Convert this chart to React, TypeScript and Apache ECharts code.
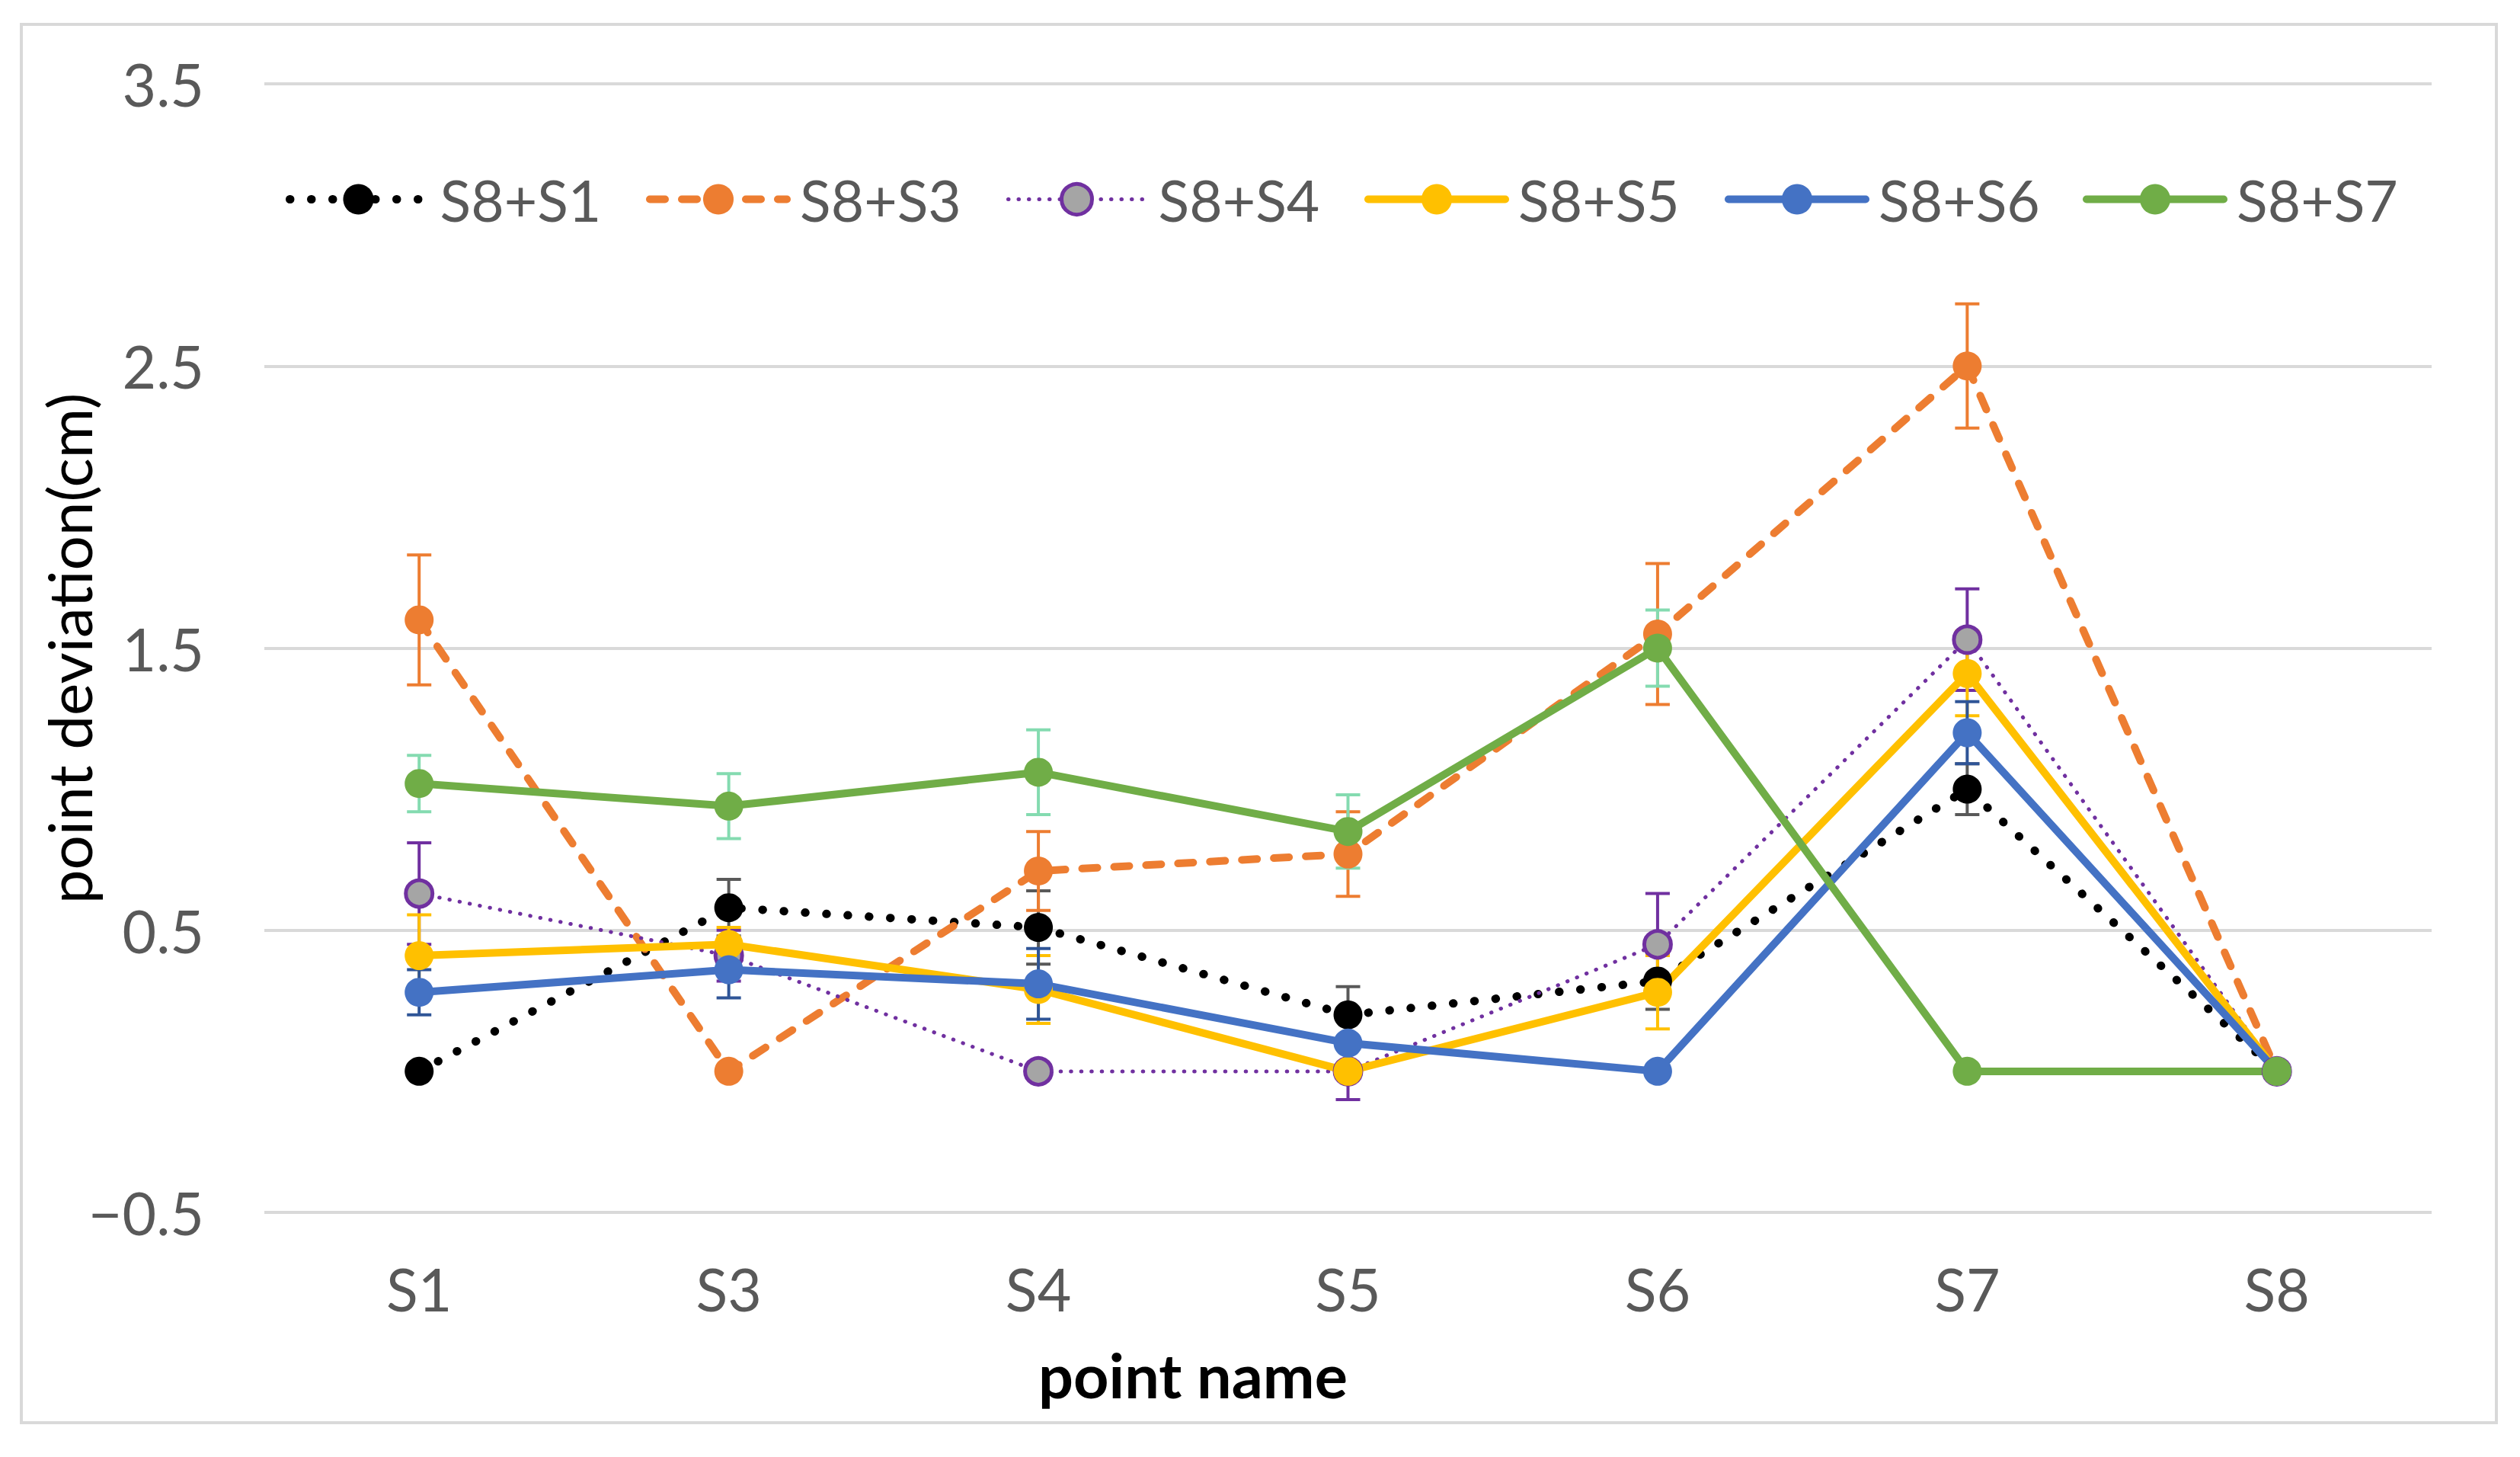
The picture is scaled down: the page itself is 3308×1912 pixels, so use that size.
import React, { useEffect, useRef } from "react";
import * as echarts from "echarts";

// ---------- data ----------
const categories = ["S1", "S3", "S4", "S5", "S6", "S7", "S8"];
const seriesNames = ["S8+S1", "S8+S3", "S8+S4", "S8+S5", "S8+S6", "S8+S7"];

const valS8S1 = [0, 0.58, 0.51, 0.2, 0.32, 1.0, 0];
const valS8S3 = [1.6, 0, 0.71, 0.77, 1.55, 2.5, 0];
const valS8S4 = [0.63, 0.41, 0, 0, 0.45, 1.53, 0];
const valS8S5 = [0.41, 0.45, 0.29, 0, 0.28, 1.41, 0];
const valS8S6 = [0.28, 0.36, 0.31, 0.1, 0, 1.2, 0];
const valS8S7 = [1.02, 0.94, 1.06, 0.85, 1.5, 0, 0];

const errS8S1 = [0, 0.1, 0.13, 0.1, 0.1, 0.09, 0];
const errS8S3 = [0.23, 0, 0.14, 0.15, 0.25, 0.22, 0];
const errS8S4 = [0.18, 0.09, 0, 0.1, 0.18, 0.18, 0];
const errS8S5 = [0.145, 0.06, 0.12, 0, 0.13, 0.15, 0];
const errS8S6 = [0.08, 0.1, 0.125, 0, 0, 0.11, 0];
const errS8S7 = [0.1, 0.115, 0.15, 0.13, 0.135, 0, 0];

const yTicks = [-0.5, 0.5, 1.5, 2.5, 3.5];

const xTitle = "point name";
const yTitle = "point deviation(cm)";

// ---------- styles ----------
const FONT = "Lato";
const FS = 77;
const values = [valS8S1, valS8S3, valS8S4, valS8S5, valS8S6, valS8S7];
const errors = [errS8S1, errS8S3, errS8S4, errS8S5, errS8S6, errS8S7];
const lineColors = ["#000000", "#ED7D31", "#7030A0", "#FFC000", "#4472C4", "#70AD47"];
const markerColors = ["#000000", "#ED7D31", "#A5A5A5", "#FFC000", "#4472C4", "#70AD47"];
const errColors = ["#595959", "#ED7D31", "#7030A0", "#FFC000", "#2F5597", "#84DBB0"];
const lineStyles: any[] = [
  { width: 11, type: [0.5, 27.5], cap: "round" },
  { width: 10, type: [20, 22], cap: "round" },
  { width: 5, type: [0.5, 13], cap: "round" },
  { width: 10, type: "solid", cap: "round" },
  { width: 10, type: "solid", cap: "round" },
  { width: 10, type: "solid", cap: "round" },
];
const legendLeft = [375, 848, 1321, 1791, 2264, 2734];

export default function App() {
  const ref = useRef<HTMLDivElement>(null);

  useEffect(() => {
    if (!ref.current) return;
    const chart = echarts.init(ref.current, undefined, { renderer: "svg" });

    const lineSeries = seriesNames.map((name, i) => ({
      name,
      type: "line",
      data: values[i],
      symbol: "circle",
      symbolSize: i === 2 ? 35 : 38,
      showSymbol: true,
      z: 3,
      lineStyle: { color: lineColors[i], ...lineStyles[i] },
      itemStyle:
        i === 2
          ? { color: markerColors[i], borderColor: lineColors[i], borderWidth: 5 }
          : { color: markerColors[i], borderWidth: 0 },
      emphasis: { disabled: true },
    }));

    const errSeries = seriesNames.map((name, i) => ({
      name: "err " + name,
      type: "custom",
      z: 2,
      silent: true,
      encode: { x: 0, y: [1, 2] },
      data: categories
        .map((_, k) => [k, values[i][k] - errors[i][k], values[i][k] + errors[i][k], errors[i][k]])
        .filter((d) => d[3] > 0),
      renderItem: (params: any, api: any) => {
        const x = api.value(0);
        const lo = api.coord([x, api.value(1)]);
        const hi = api.coord([x, api.value(2)]);
        const hw = 16;
        const st = { stroke: errColors[i], lineWidth: 4 };
        return {
          type: "group",
          children: [
            { type: "line", shape: { x1: hi[0], y1: hi[1], x2: lo[0], y2: lo[1] }, style: st },
            { type: "line", shape: { x1: hi[0] - hw, y1: hi[1], x2: hi[0] + hw, y2: hi[1] }, style: st },
            { type: "line", shape: { x1: lo[0] - hw, y1: lo[1], x2: lo[0] + hw, y2: lo[1] }, style: st },
          ],
        };
      },
    }));

    const legends = seriesNames.map((name, i) => ({
      data: [name],
      left: legendLeft[i],
      top: 224,
      padding: 0,
      itemWidth: 180,
      itemHeight: 50,
      selectedMode: false,
      textStyle: { fontFamily: FONT, fontSize: 75, color: "#595959", padding: [0, 0, 0, 12] },
      lineStyle: {
        color: lineColors[i],
        width: lineStyles[i].width,
        type: lineStyles[i].type,
        cap: lineStyles[i].cap,
      },
      itemStyle:
        i === 2
          ? { color: markerColors[i], borderWidth: 5, borderColor: lineColors[i] }
          : { color: markerColors[i], borderWidth: 0 },
    }));

    chart.setOption({
      animation: false,
      backgroundColor: "#FFFFFF",
      textStyle: { fontFamily: FONT },
      legend: legends,
      grid: { left: 347, right: 116, top: 110, bottom: 321, containLabel: false },
      xAxis: {
        type: "category",
        data: categories,
        boundaryGap: true,
        axisLine: { show: false },
        axisTick: { show: false },
        axisLabel: { interval: 0, margin: 61, fontFamily: FONT, fontSize: FS, color: "#595959" },
        splitLine: { show: false },
      },
      yAxis: {
        type: "value",
        min: yTicks[0],
        max: yTicks[yTicks.length - 1],
        interval: 1,
        axisLine: { show: false },
        axisTick: { show: false },
        axisLabel: {
          margin: 79,
          fontFamily: FONT,
          fontSize: FS,
          color: "#595959",
          formatter: (v: number) => (v < 0 ? "\u2212" + Math.abs(v).toFixed(1) : v.toFixed(1)),
        },
        splitLine: { show: true, lineStyle: { color: "#D9D9D9", width: 4 } },
      },
      graphic: [
        {
          type: "rect",
          silent: true,
          z: -10,
          shape: { x: 28, y: 32, width: 3249, height: 1835 },
          style: { fill: "none", stroke: "#D9D9D9", lineWidth: 4 },
        },
        {
          type: "text",
          x: 1566,
          y: 1803,
          silent: true,
          style: {
            text: xTitle,
            fill: "#000000",
            fontFamily: FONT,
            fontSize: 81,
            fontWeight: "bold",
            align: "center",
            verticalAlign: "middle",
            textAlign: "center",
            textVerticalAlign: "middle",
          },
        },
        {
          type: "text",
          x: 90,
          y: 851,
          rotation: Math.PI / 2,
          silent: true,
          style: {
            text: yTitle,
            fill: "#000000",
            fontFamily: FONT,
            fontSize: 80,
            align: "center",
            verticalAlign: "middle",
            textAlign: "center",
            textVerticalAlign: "middle",
          },
        },
      ],
      series: [...errSeries, ...lineSeries],
    });

    return () => chart.dispose();
  }, []);

  return (
    <div
      ref={ref}
      style={{ position: "absolute", left: 0, top: 0, width: 3308, height: 1912, background: "#FFFFFF" }}
    />
  );
}
